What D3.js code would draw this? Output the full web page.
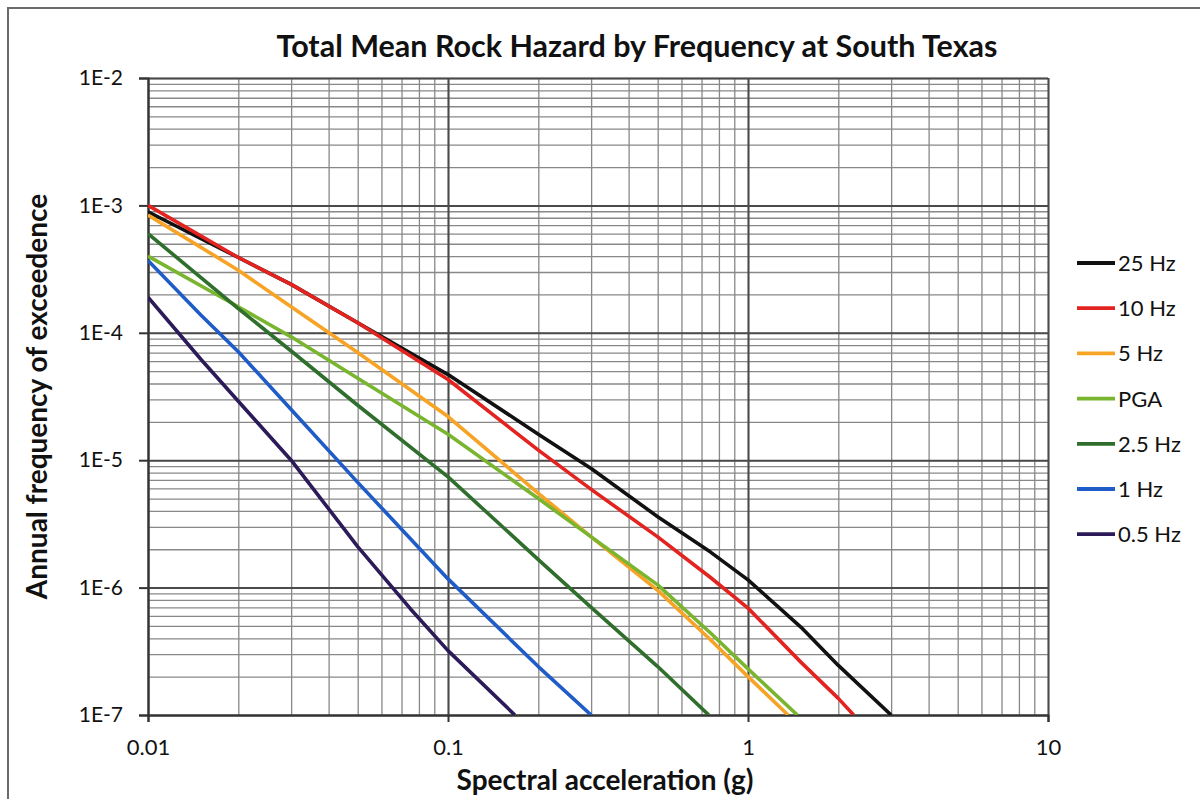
<!DOCTYPE html>
<html>
<head>
<meta charset="utf-8">
<script src="https://cdn.jsdelivr.net/npm/d3@7"></script>
<style>
  body { margin: 0; background: #fff; }
  svg text { font-family: Lato, "Open Sans", sans-serif; fill: #111; }
</style>
</head>
<body>
<div id="chart"></div>
<script>
// hazard curves: [spectral acceleration (g), annual frequency]
var hz25  = [[0.01, 8.9e-4], [0.02, 3.9e-4], [0.03, 2.4e-4], [0.05, 1.2e-4], [0.1, 4.7e-5], [0.2, 1.6e-5], [0.3, 8.6e-6], [0.5, 3.6e-6], [0.75, 1.9e-6], [1, 1.15e-6], [1.5, 4.9e-7], [2, 2.45e-7], [3, 1e-7]];
var hz10  = [[0.01, 1.0e-3], [0.02, 3.9e-4], [0.03, 2.4e-4], [0.05, 1.2e-4], [0.1, 4.3e-5], [0.2, 1.2e-5], [0.3, 5.9e-6], [0.5, 2.5e-6], [0.75, 1.2e-6], [1, 6.9e-7], [1.5, 2.6e-7], [2, 1.35e-7], [2.25, 1e-7]];
var hz5   = [[0.01, 8.4e-4], [0.02, 3.1e-4], [0.03, 1.6e-4], [0.05, 7.0e-5], [0.1, 2.2e-5], [0.2, 5.5e-6], [0.3, 2.5e-6], [0.5, 9.5e-7], [0.75, 3.9e-7], [1, 2.0e-7], [1.36, 1e-7]];
var pga   = [[0.01, 4.0e-4], [0.02, 1.6e-4], [0.03, 9.3e-5], [0.05, 4.4e-5], [0.1, 1.6e-5], [0.2, 5.0e-6], [0.3, 2.5e-6], [0.5, 1.05e-6], [0.75, 4.4e-7], [1, 2.3e-7], [1.46, 1e-7]];
var hz2_5 = [[0.01, 6.0e-4], [0.02, 1.55e-4], [0.03, 7.2e-5], [0.05, 2.7e-5], [0.1, 7.4e-6], [0.2, 1.66e-6], [0.3, 7.0e-7], [0.5, 2.4e-7], [0.74, 1e-7]];
var hz1   = [[0.01, 3.7e-4], [0.015, 1.38e-4], [0.02, 7.1e-5], [0.03, 2.5e-5], [0.05, 6.7e-6], [0.1, 1.17e-6], [0.2, 2.4e-7], [0.3, 1e-7]];
var hz0_5 = [[0.01, 1.9e-4], [0.015, 6.2e-5], [0.02, 2.9e-5], [0.03, 1.0e-5], [0.05, 2.1e-6], [0.075, 6.8e-7], [0.1, 3.2e-7], [0.167, 1e-7]];

var seriesNames = ["25 Hz", "10 Hz", "5 Hz", "PGA", "2.5 Hz", "1 Hz", "0.5 Hz"];
var seriesData = [hz25, hz10, hz5, pga, hz2_5, hz1, hz0_5];
var seriesColors = ["#111111", "#e2231f", "#f7a325", "#79b52f", "#2f6e2c", "#1f5cc8", "#2c1b58"];

var xTickLabels = ["0.01", "0.1", "1", "10"];
var yTickLabels = ["1E-7", "1E-6", "1E-5", "1E-4", "1E-3", "1E-2"];

var width = 1200, height = 799;
// plot box in px (window.top is reserved, so prefix the names)
var pLeft = 148, pRight = 1048, pTop = 78, pBottom = 715;

var svg = d3.select("#chart").append("svg")
    .attr("width", width)
    .attr("height", height);

// outer frame (only left/top edge visible in the picture)
svg.append("rect")
    .attr("x", 8).attr("y", 8)
    .attr("width", 1250).attr("height", 850)
    .attr("fill", "none")
    .attr("stroke", "#6a6a6a")
    .attr("stroke-width", 2);

var x = d3.scaleLog().domain([0.01, 10]).range([pLeft, pRight]);
var y = d3.scaleLog().domain([1e-7, 1e-2]).range([pBottom, pTop]);

var xMajor = [0.01, 0.1, 1, 10];
var yMajor = [1e-7, 1e-6, 1e-5, 1e-4, 1e-3, 1e-2];

// minor grid
svg.append("g")
    .attr("transform", "translate(" + pLeft + ",0)")
    .call(d3.axisLeft(y).ticks(50).tickSize(-(pRight - pLeft)).tickFormat(""))
    .call(g => g.select(".domain").remove())
    .selectAll("line").attr("stroke", "#888").attr("stroke-width", 1.3);

svg.append("g")
    .attr("transform", "translate(0," + pBottom + ")")
    .call(d3.axisBottom(x).ticks(30).tickSize(-(pBottom - pTop)).tickFormat(""))
    .call(g => g.select(".domain").remove())
    .selectAll("line").attr("stroke", "#888").attr("stroke-width", 1.3);

// major grid
svg.append("g")
    .attr("transform", "translate(" + pLeft + ",0)")
    .call(d3.axisLeft(y).tickValues(yMajor).tickSize(-(pRight - pLeft)).tickFormat(""))
    .call(g => g.select(".domain").remove())
    .selectAll("line").attr("stroke", "#4a4a4a").attr("stroke-width", 2);

svg.append("g")
    .attr("transform", "translate(0," + pBottom + ")")
    .call(d3.axisBottom(x).tickValues(xMajor).tickSize(-(pBottom - pTop)).tickFormat(""))
    .call(g => g.select(".domain").remove())
    .selectAll("line").attr("stroke", "#4a4a4a").attr("stroke-width", 2);

// axes with labels
var yAxis = svg.append("g")
    .attr("transform", "translate(" + pLeft + ",0)")
    .call(d3.axisLeft(y).tickValues(yMajor).tickSize(9).tickPadding(16)
        .tickFormat((d, i) => yTickLabels[i]));
yAxis.select(".domain").attr("stroke", "#333").attr("stroke-width", 2);
yAxis.selectAll("line").attr("stroke", "#333").attr("stroke-width", 2);
yAxis.selectAll("text").style("font-size", "21px").attr("fill", "#111");

var xAxis = svg.append("g")
    .attr("transform", "translate(0," + pBottom + ")")
    .call(d3.axisBottom(x).tickValues(xMajor).tickSize(7).tickPadding(17)
        .tickFormat((d, i) => xTickLabels[i]));
xAxis.select(".domain").attr("stroke", "#333").attr("stroke-width", 2);
xAxis.selectAll("line").attr("stroke", "#333").attr("stroke-width", 2);
xAxis.selectAll("text").style("font-size", "22px").attr("fill", "#111");

// curves
svg.append("clipPath").attr("id", "plot")
    .append("rect").attr("x", pLeft).attr("y", pTop)
    .attr("width", pRight - pLeft).attr("height", pBottom - pTop);

var line = d3.line()
    .x(d => x(d[0]))
    .y(d => y(d[1]));

svg.append("g").attr("clip-path", "url(#plot)")
    .selectAll("path")
    .data(seriesData)
    .join("path")
    .attr("d", line)
    .attr("fill", "none")
    .attr("stroke", (d, i) => seriesColors[i])
    .attr("stroke-width", 3.6)
    .attr("stroke-linejoin", "round");

// legend
var legend = svg.append("g");
seriesNames.forEach(function (name, i) {
    var ly = 263 + i * 45.2;
    legend.append("line")
        .attr("x1", 1077).attr("x2", 1115)
        .attr("y1", ly).attr("y2", ly)
        .attr("stroke", seriesColors[i])
        .attr("stroke-width", 3.8);
    legend.append("text")
        .attr("x", 1118).attr("y", ly + 8)
        .style("font-size", "22px")
        .text(name);
});

// titles
svg.append("text")
    .attr("x", 637).attr("y", 57)
    .attr("text-anchor", "middle")
    .style("font-size", "30.5px").style("font-weight", "bold")
    .text("Total Mean Rock Hazard by Frequency at South Texas");

svg.append("text")
    .attr("x", 605).attr("y", 790)
    .attr("text-anchor", "middle")
    .style("font-size", "28px").style("font-weight", "bold")
    .text("Spectral acceleration (g)");

svg.append("text")
    .attr("transform", "translate(47," + ((pTop + pBottom) / 2) + ") rotate(-90)")
    .attr("text-anchor", "middle")
    .style("font-size", "28px").style("font-weight", "bold")
    .text("Annual frequency of exceedence");
</script>
</body>
</html>
